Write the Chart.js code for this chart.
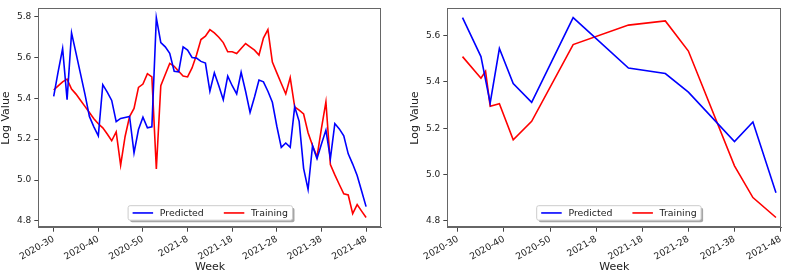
<!DOCTYPE html>
<html>
<head>
<meta charset="utf-8">
<script src="https://cdn.jsdelivr.net/npm/chart.js@4.4.0/dist/chart.umd.js"></script>
<style>
  body { margin: 0; background: #fff; }
  #wrap { position: relative; width: 793px; height: 276px; overflow: hidden; }
  .box { position: absolute; top: 0; height: 276px; }
</style>
</head>
<body>
<div id="wrap">
  <div class="box" style="left:0;width:392px"><canvas id="left"></canvas></div>
  <div class="box" style="left:409px;width:384px"><canvas id="right"></canvas></div>
</div>
<script>
// week index 0 = 2020-30, a tick every 10 weeks
const weekTicks = ['2020-30', '2020-40', '2020-50', '2021-8', '2021-18', '2021-28', '2021-38', '2021-48'];

// left panel: weekly series, weeks 0..70
const leftPredicted = [
  5.409, 5.53, 5.643, 5.393, 5.719, 5.62, 5.52, 5.42, 5.311, 5.26,
  5.216, 5.466, 5.43, 5.389, 5.285, 5.301, 5.306, 5.311, 5.133, 5.247,
  5.307, 5.255, 5.260, 5.793, 5.672, 5.651, 5.619, 5.532, 5.529, 5.651,
  5.635, 5.599, 5.596, 5.580, 5.572, 5.434, 5.524, 5.461, 5.393, 5.508,
  5.461, 5.421, 5.527, 5.434, 5.330, 5.406, 5.489, 5.480, 5.434, 5.380,
  5.263, 5.160, 5.181, 5.160, 5.358, 5.287, 5.057, 4.954, 5.168, 5.105,
  5.176, 5.244, 5.105, 5.276, 5.250, 5.216, 5.128, 5.078, 5.022, 4.946,
  4.870
];
const leftTraining = [
  5.440, 5.46, 5.48, 5.493, 5.445, 5.42, 5.39, 5.36, 5.33, 5.30,
  5.275, 5.255, 5.225, 5.192, 5.235, 5.073, 5.213, 5.31, 5.350, 5.453,
  5.469, 5.520, 5.504, 5.054, 5.461, 5.516, 5.570, 5.556, 5.532, 5.508,
  5.504, 5.548, 5.611, 5.687, 5.703, 5.735, 5.719, 5.698, 5.672, 5.627,
  5.627, 5.618, 5.643, 5.667, 5.651, 5.635, 5.611, 5.694, 5.735, 5.577,
  5.524, 5.472, 5.421, 5.501, 5.358, 5.342, 5.323, 5.231, 5.169, 5.113,
  5.252, 5.382, 5.076, 5.025, 4.978, 4.933, 4.927, 4.836, 4.880, 4.848,
  4.817
];

// right panel: sparse weeks
const rightPredWeeks = [1, 5, 7, 9, 12, 16, 25, 37, 45, 50, 60, 64, 69];
const rightPredicted = [5.677, 5.509, 5.309, 5.544, 5.393, 5.312, 5.677, 5.460, 5.436, 5.356, 5.143, 5.227, 4.922];
const rightTrainWeeks = [1, 5, 6, 7, 9, 12, 16, 25, 37, 45, 50, 60, 64, 69];
const rightTraining = [5.509, 5.416, 5.446, 5.295, 5.306, 5.150, 5.230, 5.561, 5.645, 5.663, 5.533, 5.038, 4.901, 4.815];

const yTicks = [4.8, 5.0, 5.2, 5.4, 5.6, 5.8];

const FONT = '"DejaVu Sans", sans-serif';

// frame around plot area + matplotlib-like legend (lower center, 2 columns, shadow)
const frameLegend = {
  id: 'frameLegend',
  afterDraw(chart, args, opts) {
    const {ctx, chartArea: a} = chart;
    ctx.save();
    ctx.strokeStyle = '#666';
    ctx.lineWidth = 1;
    ctx.strokeRect(Math.round(a.left) + 0.5, Math.round(a.top) + 0.5,
      Math.round(a.width) - 1, Math.round(a.height) - 1);

    ctx.font = '9.4px ' + FONT;
    const items = chart.data.datasets.map(d => ({
      text: d.label, color: d.borderColor, w: ctx.measureText(d.label).width
    }));
    const padX = 4.5, handle = 20.5, gap = 6.7, colGap = 20, h = 14.5;
    let w = padX * 2 + colGap * (items.length - 1);
    items.forEach(it => { w += handle + gap + it.w; });
    const cx = (a.left + a.right) / 2 + (opts.offsetX || 0);
    const x0 = cx - w / 2;
    const y0 = a.bottom - 7.5 - h;

    // shadow
    ctx.fillStyle = 'rgba(0,0,0,0.35)';
    ctx.beginPath();
    ctx.roundRect(x0 + 2, y0 + 2, w, h, 2);
    ctx.fill();
    ctx.fillStyle = '#fff';
    ctx.strokeStyle = '#ccc';
    ctx.beginPath();
    ctx.roundRect(x0, y0, w, h, 2);
    ctx.fill();
    ctx.stroke();

    let x = x0 + padX;
    const ym = y0 + h / 2;
    items.forEach(it => {
      ctx.strokeStyle = it.color;
      ctx.lineWidth = 1.6;
      ctx.beginPath();
      ctx.moveTo(x, ym);
      ctx.lineTo(x + handle, ym);
      ctx.stroke();
      x += handle + gap;
      ctx.fillStyle = '#222';
      ctx.textBaseline = 'middle';
      ctx.textAlign = 'left';
      ctx.fillText(it.text, x, ym + 0.5);
      x += it.w + colGap;
    });
    ctx.restore();
  }
};

function makeChart(id, datasets, xMin, xMax, yMin, yMax, padRight, legendOffset) {
  return new Chart(document.getElementById(id), {
    type: 'line',
    data: {datasets},
    options: {
      responsive: true,
      maintainAspectRatio: false,
      animation: false,
      layout: {padding: {top: 2, right: padRight, bottom: 0, left: 0}},
      elements: {
        line: {borderWidth: 1.6, tension: 0},
        point: {radius: 0}
      },
      plugins: {
        legend: {display: false},
        tooltip: {enabled: false},
        frameLegend: {offsetX: legendOffset}
      },
      scales: {
        x: {
          type: 'linear',
          min: xMin,
          max: xMax,
          afterBuildTicks: s => { s.ticks = weekTicks.map((_, i) => ({value: i * 10})); },
          afterFit: s => { s.height = 48.3; },
          ticks: {
            callback: v => weekTicks[Math.round(v / 10)],
            minRotation: 30,
            maxRotation: 30,
            autoSkip: false,
            padding: 2,
            color: '#222',
            font: {family: FONT, size: 9.2}
          },
          grid: {display: true, drawOnChartArea: false, drawTicks: true, tickLength: 4, color: '#444'},
          border: {display: true, color: '#666'},
          title: {display: true, text: 'Week', color: '#222', font: {family: FONT, size: 11}, padding: {top: 0, bottom: 2}}
        },
        y: {
          min: yMin,
          max: yMax,
          afterBuildTicks: s => { s.ticks = yTicks.filter(v => v >= yMin && v <= yMax).map(v => ({value: v})); },
          afterFit: s => { s.width = 38.3; },
          ticks: {
            callback: v => v.toFixed(1),
            padding: 3,
            color: '#222',
            font: {family: FONT, size: 9}
          },
          grid: {display: true, drawOnChartArea: false, drawTicks: true, tickLength: 4, color: '#444'},
          border: {display: true, color: '#666'},
          title: {display: true, text: 'Log Value', color: '#222', font: {family: FONT, size: 11}, padding: {top: 0, bottom: 0}}
        }
      }
    },
    plugins: [frameLegend]
  });
}

makeChart('left', [
  {label: 'Predicted', data: leftPredicted.map((v, i) => ({x: i, y: v})), borderColor: '#0000ff'},
  {label: 'Training', data: leftTraining.map((v, i) => ({x: i, y: v})), borderColor: '#ff0000'}
], -3.45, 73.5, 4.767, 5.839, 10.3, 0.3);

makeChart('right', [
  {label: 'Predicted', data: rightPredWeeks.map((w, i) => ({x: w, y: rightPredicted[i]})), borderColor: '#0000ff'},
  {label: 'Training', data: rightTrainWeeks.map((w, i) => ({x: w, y: rightTraining[i]})), borderColor: '#ff0000'}
], -2.3, 70.2, 4.771, 5.717, 11.5, 4.5);
</script>
</body>
</html>
